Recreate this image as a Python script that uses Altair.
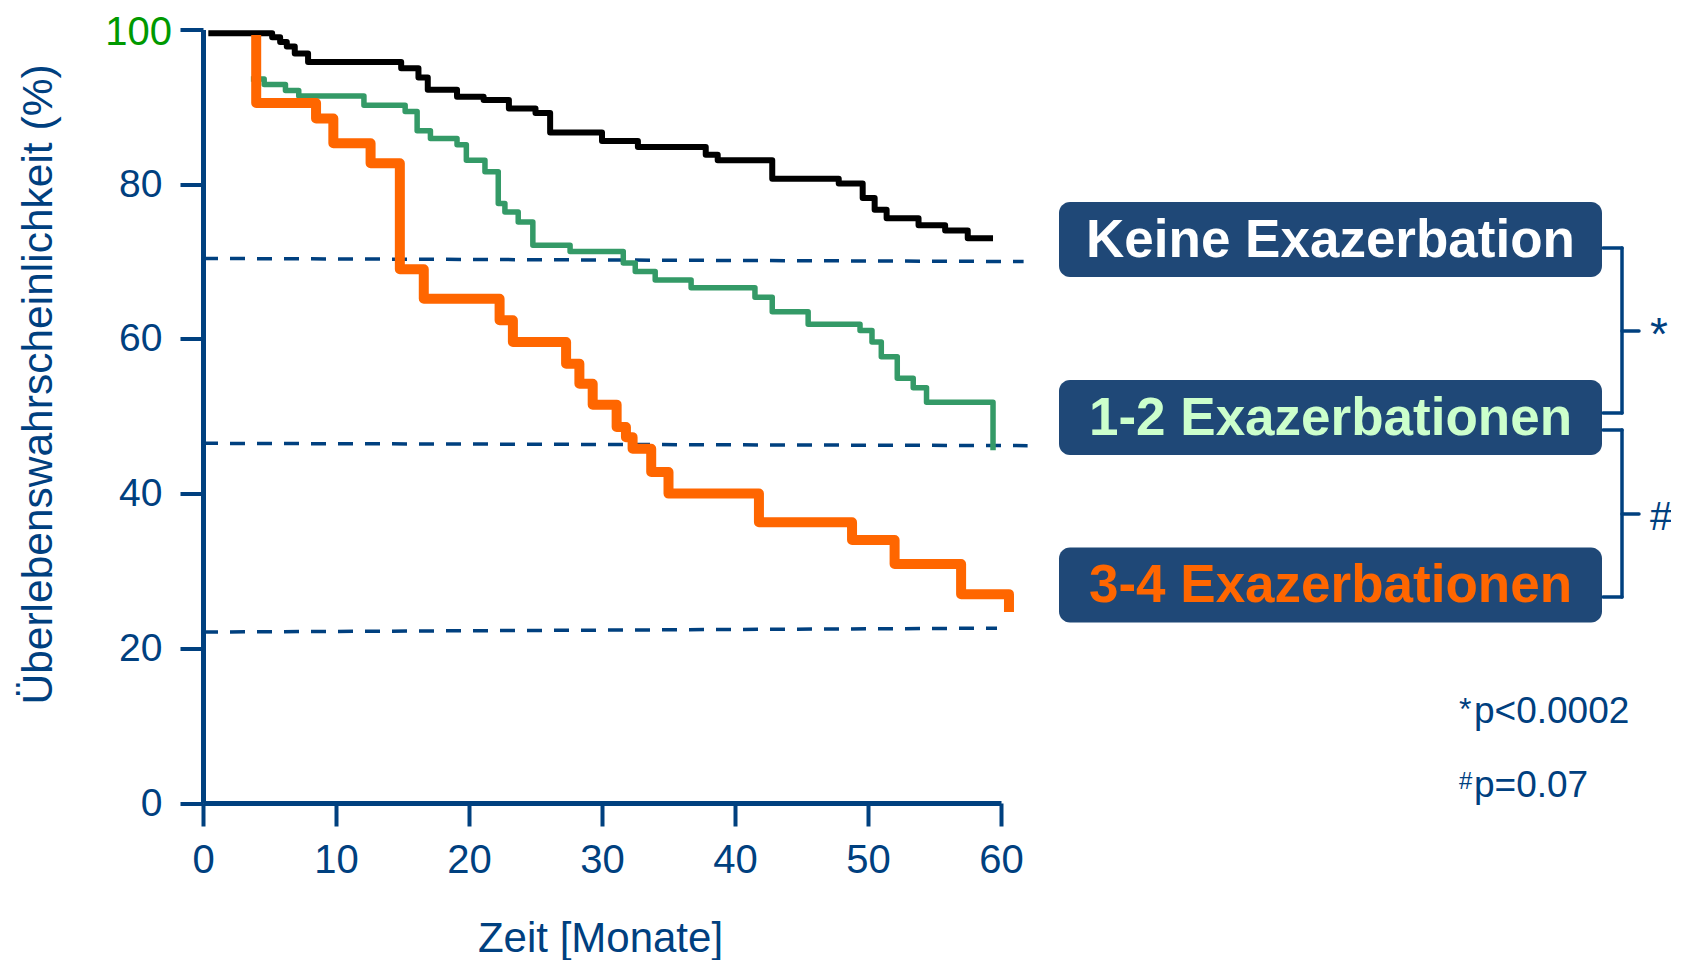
import altair as alt
import pandas as pd

# ---------------- data ----------------
black_t = [0.4, 5.2, 5.8, 6.3, 6.9, 7.9, 14.9, 16.2, 16.9, 19.1, 21.1, 23.0, 25.0, 26.1,
           30.0, 32.7, 37.8, 38.7, 42.8, 47.8, 49.6, 50.5, 51.4, 53.8, 55.8, 57.5, 59.4]
black_s = [99.5, 99.0, 98.4, 97.8, 96.9, 95.8, 95.0, 93.8, 92.2, 91.3, 90.9, 89.8, 89.2, 86.7,
           85.6, 84.8, 83.8, 83.1, 80.7, 80.1, 78.2, 76.7, 75.6, 74.7, 74.0, 73.0, 73.0]

green_t = [3.6, 4.6, 6.2, 7.2, 12.1, 15.2, 16.1, 17.1, 19.1, 19.8, 21.2, 22.2, 22.7, 23.7,
           24.8, 27.6, 31.6, 32.5, 34.0, 36.7, 41.5, 42.8, 45.5, 49.4, 50.3, 51.0, 52.2,
           53.4, 54.4, 59.4]
green_s = [93.6, 92.9, 92.1, 91.4, 90.2, 89.4, 86.9, 85.9, 85.1, 83.1, 81.6, 77.5, 76.4, 75.1,
           72.1, 71.3, 69.8, 68.7, 67.6, 66.6, 65.4, 63.5, 61.9, 61.1, 59.6, 57.7, 54.9,
           53.7, 51.8, 45.6]

orange_t = [4.0, 4.0, 8.5, 9.8, 12.6, 14.8, 16.6, 22.3, 23.3, 27.3, 28.3, 29.3, 31.1, 31.8,
            32.3, 33.7, 35.0, 41.8, 48.8, 52.0, 57.0, 60.6]
orange_s = [99.3, 90.5, 88.5, 85.3, 82.7, 69.0, 65.2, 62.4, 59.6, 56.8, 54.2, 51.5, 48.6, 47.3,
            45.8, 42.8, 40.0, 36.3, 34.0, 30.9, 27.0, 24.7]

ref_t_start = [0, 0, 0]
ref_t_end = [61.7, 62.0, 59.7]
ref_s_start = [70.4, 46.5, 22.1]
ref_s_end = [70.0, 46.2, 22.6]

group_names = ["Keine Exazerbation", "1-2 Exazerbationen", "3-4 Exazerbationen"]
x_ticks = [0, 10, 20, 30, 40, 50, 60]
y_ticks = [0, 20, 40, 60, 80, 100]
sig_marks = ["*", "#"]
p_texts = ["p<0.0002", "p=0.07"]

# ---------------- styles / layout ----------------
FONT = "Liberation Sans, Arial, Helvetica, sans-serif"
NAVY = "#00407f"
GREEN_LABEL = "#009900"
BOX = "#1f4877"
LINE_COLORS = ["#000000", "#349a67", "#ff6600"]
LINE_WIDTHS = [6, 5.5, 10]
TEXT_COLORS = ["#ffffff", "#ccffcc", "#ff6600"]

OX, OY = 203, 29.5          # page position of the plot origin
W, H = 798, 773.5


def px(x):
    return x - OX


def py(y):
    return y - OY


x_scale = alt.Scale(domain=[0, 60], nice=False, zero=False)
y_scale = alt.Scale(domain=[0, 100], nice=False)

top_tick = y_ticks[-1]

x_axis = alt.Axis(values=x_ticks, title="Zeit [Monate]", labelFontSize=40, labelPadding=14,
                  labelColor=NAVY, titleFontSize=42, titleX=397, titleY=148,
                  titleBaseline="alphabetic", titleAlign="center", labelFlush=False,
                  labelOverlap=False)
y_axis = alt.Axis(values=y_ticks, title="Überlebenswahrscheinlichkeit (%)",
                  labelExpr=f"datum.value == {top_tick} ? '' : datum.label",
                  labelFontSize=39, labelColor=NAVY,
                  labelPadding=18, titleFontSize=42.5, titleAngle=270, titleX=-165,
                  titleY=354.5, titleAlign="center", titleBaseline="middle",
                  labelOverlap=False)

# dashed reference lines
ref_df = pd.DataFrame({"t0": ref_t_start, "t1": ref_t_end, "s0": ref_s_start, "s1": ref_s_end})
refs = alt.Chart(ref_df).mark_rule(color=NAVY, strokeWidth=3.5, strokeDash=[15, 12]).encode(
    x=alt.X("t0:Q", scale=x_scale, axis=x_axis),
    x2="t1:Q",
    y=alt.Y("s0:Q", scale=y_scale, axis=y_axis),
    y2="s1:Q",
)

layers = [refs]

# the green "100" tick label
layers.append(
    alt.Chart(pd.DataFrame({"v": [top_tick]})).mark_text(
        font=FONT, fontSize=40, align="right", baseline="alphabetic", color=GREEN_LABEL, dy=15
    ).encode(
        x=alt.value(px(172)),
        y=alt.Y("v:Q", scale=y_scale, axis=y_axis),
        text="v:Q",
    )
)

for name, ts, ss, col, sw in zip(group_names, [black_t, green_t, orange_t],
                                 [black_s, green_s, orange_s], LINE_COLORS, LINE_WIDTHS):
    df = pd.DataFrame({"t": ts, "s": ss, "i": list(range(len(ts)))})
    layers.append(
        alt.Chart(df).mark_line(interpolate="step-after", color=col, strokeWidth=sw,
                                strokeJoin="round").encode(
            x=alt.X("t:Q", scale=x_scale, axis=x_axis),
            y=alt.Y("s:Q", scale=y_scale, axis=y_axis),
            order="i:Q",
        )
    )

# legend boxes
box_tops = [202, 380, 547.5]
box_h = 75
for name, top, tcol in zip(group_names, box_tops, TEXT_COLORS):
    d = pd.DataFrame({"label": [name]})
    layers.append(
        alt.Chart(d).mark_rect(color=BOX, cornerRadius=11).encode(
            x=alt.value(px(1059)), x2=alt.value(px(1602)),
            y=alt.value(py(top)), y2=alt.value(py(top + box_h)),
        )
    )
    layers.append(
        alt.Chart(d).mark_text(font=FONT, fontSize=53, fontWeight="bold", align="center",
                               baseline="middle", color=tcol).encode(
            x=alt.value(px(1330.5)), y=alt.value(py(top + box_h / 2 + 1)), text="label:N"
        )
    )

# braces
one = pd.DataFrame({"k": [0]})


def seg(x1, y1, x2, y2):
    return alt.Chart(one).mark_rule(color=NAVY, strokeWidth=3.5, strokeCap="round").encode(
        x=alt.value(px(x1)), x2=alt.value(px(x2)), y=alt.value(py(y1)), y2=alt.value(py(y2))
    )


for top, mid, bot in [(248, 331, 413), (430, 514, 597)]:
    layers += [
        seg(1603, top, 1622, top),
        seg(1622, top, 1622, bot),
        seg(1603, bot, 1622, bot),
        seg(1622, mid, 1639, mid),
    ]

# significance markers next to braces
for mark, ybase, fsz in zip(sig_marks, [350, 530], [46, 40]):
    layers.append(
        alt.Chart(pd.DataFrame({"m": [mark]})).mark_text(
            font=FONT, fontSize=fsz, align="left", baseline="alphabetic", color=NAVY
        ).encode(x=alt.value(px(1650)), y=alt.value(py(ybase)), text="m:N")
    )

# p-value notes
for mark, txt, ybase, sup_base, sup_size in zip(sig_marks, p_texts, [723, 796.5],
                                                 [720, 789], [32, 24]):
    layers.append(
        alt.Chart(pd.DataFrame({"m": [mark]})).mark_text(
            font=FONT, fontSize=sup_size, align="left", baseline="alphabetic", color=NAVY
        ).encode(x=alt.value(px(1459)), y=alt.value(py(sup_base)), text="m:N")
    )
    layers.append(
        alt.Chart(pd.DataFrame({"p": [txt]})).mark_text(
            font=FONT, fontSize=37, align="left", baseline="alphabetic", color=NAVY
        ).encode(x=alt.value(px(1474)), y=alt.value(py(ybase)), text="p:N")
    )

chart = alt.layer(*layers).properties(
    width=W, height=H,
    autosize=alt.AutoSizeParams(type="none"),
    padding={"left": 195, "top": 21.5, "right": 670, "bottom": 157},
).configure_view(stroke=None).configure_axis(
    grid=False,
    domainColor=NAVY, domainWidth=5,
    tickColor=NAVY, tickWidth=4, tickSize=23,
    labelFont=FONT, titleFont=FONT, titleFontWeight="normal",
    titleColor=NAVY,
)

chart.save("out.html", embed_options={"renderer": "svg", "actions": False})
